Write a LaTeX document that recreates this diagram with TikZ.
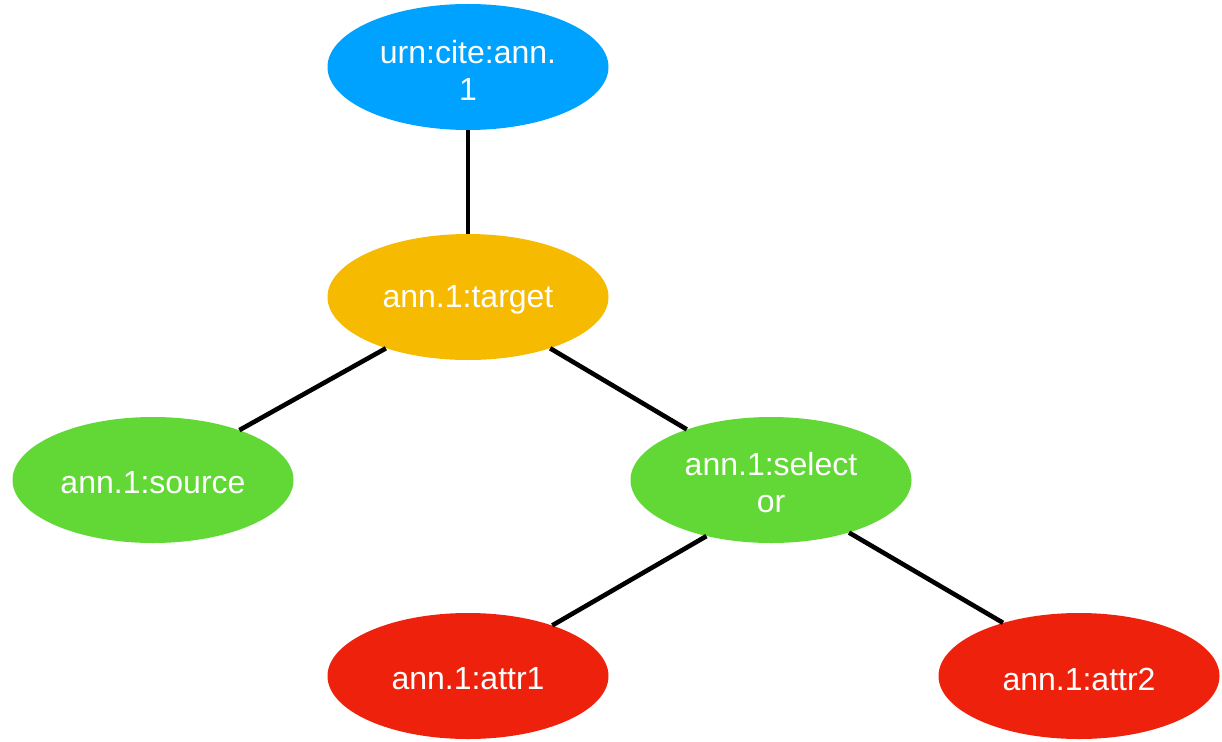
\documentclass[tikz,border=0pt]{standalone}
\usepackage{fontspec}
\setmainfont{Liberation Sans}
\usetikzlibrary{shapes.geometric}
\definecolor{kblue}{HTML}{00A2FF}
\definecolor{kyellow}{HTML}{F6BA00}
\definecolor{kgreen}{HTML}{61D836}
\definecolor{kred}{HTML}{EE220C}
\begin{document}
\begin{tikzpicture}[x=1pt,y=-1pt,
  nd/.style={ellipse, minimum width=281pt, minimum height=126pt, inner sep=0pt},
  lbl/.style={inner sep=0pt, text=white, font=\fontsize{32}{37}\selectfont, align=center},
  edge/.style={line width=4.6pt, black}]
\useasboundingbox (0,0) rectangle (1222,741);
\node[nd, fill=kblue]   (urn) at (468,67) {};
\node[nd, fill=kyellow] (tgt) at (468,297) {};
\node[nd, fill=kgreen]  (src) at (153,480) {};
\node[nd, fill=kgreen]  (sel) at (771,480) {};
\node[nd, fill=kred]    (a1)  at (468,676) {};
\node[nd, fill=kred]    (a2)  at (1079,676) {};
\node[lbl] (urnt) at ([yshift=-3pt]urn.center) {urn:cite:ann.\\1};
\node[lbl] (tgtt) at ([yshift=-3pt]tgt.center) {ann.1:target};
\node[lbl] (srct) at ([yshift=-3pt]src.center) {ann.1:source};
\node[lbl] (selt) at ([yshift=-3pt]sel.center) {ann.1:select\\or};
\node[lbl] (a1t)  at ([yshift=-3pt]a1.center) {ann.1:attr1};
\node[lbl] (a2t)  at ([yshift=-3pt]a2.center) {ann.1:attr2};
\draw[edge] (urn.270) -- (tgt.90);
\draw[edge] (tgt.212.2) -- (src.30);
\draw[edge] (tgt.328.1) -- (sel.149.8);
\draw[edge] (sel.221.1) -- (a1.31.3);
\draw[edge] (sel.326.6) -- (a2.145.5);
\end{tikzpicture}
\end{document}
